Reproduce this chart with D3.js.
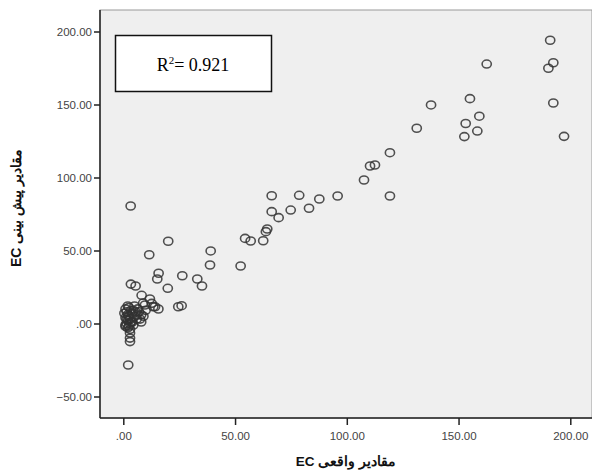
<!DOCTYPE html>
<html><head><meta charset="utf-8">
<script src="https://cdn.jsdelivr.net/npm/d3@7"></script>
<style>html,body{margin:0;padding:0;background:#fff;}svg{display:block;}</style>
</head><body>
<svg id="chart" width="592" height="473"></svg>
<script>
// Observed EC (x) vs predicted EC (y)
const actualEC = [
  191,162.6,192.4,190.2,137.7,155.1,192.4,159.3,131.3,153.2,158.4,152.6,197.2,
  119.3,110.4,112.6,107.7,119.3,66.4,78.7,87.7,95.9,66.4,74.9,83.1,69.5,64.4,63.8,62.6,54.5,57,52.5,
  3.3,20.1,11.6,39.1,38.8,15.8,15.2,26.4,33.1,35.2,19.9,3.4,5.5,8.2,11.9,26.1,13.4,9.7,
  14.2,15.7,12.7,24.6,8.9,
  1,1.5,2,1,2,1.5,2.5,3,3.5,4,2.5,5,6,7,8,6.5,4,3,1,5,2,9,7.5,10,3,3,3,2.2,8,4.5,
  0.5,1.5,2.5,3.5,4.5,5.5,1,2,3,6
];
const predictedEC = [
  194,177.7,178.6,174.8,149.7,154,151,142,133.7,137,131.8,128,128.2,
  117,107.9,108.6,98.3,87.3,87.5,87.8,85.3,87.3,76.6,77.7,78.9,72.5,64.7,62.9,56.7,58.3,56.5,39.4,
  80.5,56.3,47.1,49.7,40.1,34.4,30.5,32.7,30.5,25.7,24.1,27,25.7,19.3,16.8,12.2,11.5,12.7,
  11.5,9.9,13.8,11.5,14,
  10,8,6,4,2,0,-2,-4,9,7,11,5,3,8,1,10,1,3,-1,12,-3,5,3,9,-6.5,-10,-12.4,-28.4,6,-1,
  7,3,5,1,9,8,-2,12,0,6
];
const xTicks = [0, 50, 100, 150, 200];
const yTicks = [-50, 0, 50, 100, 150, 200];
const fmt = v => v === 0 ? ".00" : d3.format(".2f")(v);
const xTitle = "مقادیر واقعی EC";
const yTitle = "مقادیر پیش بینی EC";
const r2Text = ["R", "2", "= 0.921"];

const svg = d3.select("#chart");
const pL = 100, pR = 592, pT = 10, pB = 418;
const x = d3.scaleLinear().domain([0, 200]).range([123.3, 570.3]);
const y = d3.scaleLinear().domain([0, 200]).range([323.5, 31.5]);

svg.append("rect").attr("x", pL).attr("y", pT).attr("width", pR - pL).attr("height", pB - pT)
  .attr("fill", "#efefef").attr("stroke", "#9a9a9a").attr("stroke-width", 1);

// axes
const xAxis = d3.axisBottom(x).tickValues(xTicks).tickFormat(fmt).tickSize(7).tickSizeOuter(0);
const yAxis = d3.axisLeft(y).tickValues(yTicks).tickFormat(fmt).tickSize(6).tickSizeOuter(0);

const gx = svg.append("g").attr("transform", `translate(0,${pB})`).call(xAxis);
gx.select(".domain").attr("d", `M${pL},0H${pR}`).attr("stroke", "#222").attr("stroke-width", 1.5);
gx.selectAll(".tick line").attr("stroke", "#222").attr("stroke-width", 1.5);
gx.selectAll(".tick text").attr("font-family", "Liberation Sans, Arial, sans-serif").attr("font-size", 11.5)
  .attr("fill", "#444").attr("dy", "1.05em");

const gy = svg.append("g").attr("transform", `translate(${pL},0)`).call(yAxis);
gy.select(".domain").attr("d", `M0,${pT}V${pB}`).attr("stroke", "#222").attr("stroke-width", 1.5);
gy.selectAll(".tick line").attr("stroke", "#222").attr("stroke-width", 1.5);
gy.selectAll(".tick text").attr("font-family", "Liberation Sans, Arial, sans-serif").attr("font-size", 11.5)
  .attr("fill", "#444").attr("x", -8);

// points
svg.append("g").selectAll("ellipse").data(actualEC.map((v, i) => [v, predictedEC[i]])).join("ellipse")
  .attr("cx", d => x(d[0])).attr("cy", d => y(d[1])).attr("rx", 4.6).attr("ry", 4)
  .attr("fill", "none").attr("stroke", "#333").attr("stroke-width", 1.6).attr("stroke-opacity", 0.85);

// R² box
svg.append("rect").attr("x", 115.5).attr("y", 35.5).attr("width", 156).attr("height", 56)
  .attr("fill", "#fff").attr("stroke", "#111").attr("stroke-width", 1.5);
const rt = svg.append("text").attr("x", 193).attr("y", 71).attr("text-anchor", "middle")
  .attr("font-family", "Liberation Serif, Times New Roman, serif").attr("font-size", 18).attr("fill", "#000");
rt.append("tspan").text(r2Text[0]);
rt.append("tspan").attr("dy", -7).attr("font-size", 11).text(r2Text[1]);
rt.append("tspan").attr("dy", 7).text(r2Text[2]);

// titles
svg.append("text").attr("x", 346).attr("y", 466).attr("text-anchor", "middle").attr("direction", "rtl")
  .attr("font-family", "Liberation Sans, Arial, sans-serif").attr("font-weight", "bold").attr("font-size", 13.5)
  .attr("fill", "#111").text(xTitle);
svg.append("text").attr("transform", "translate(21,208) rotate(-90)").attr("text-anchor", "middle").attr("direction", "rtl")
  .attr("font-family", "Liberation Sans, Arial, sans-serif").attr("font-weight", "bold").attr("font-size", 14)
  .attr("fill", "#111").text(yTitle);
</script>
</body></html>
